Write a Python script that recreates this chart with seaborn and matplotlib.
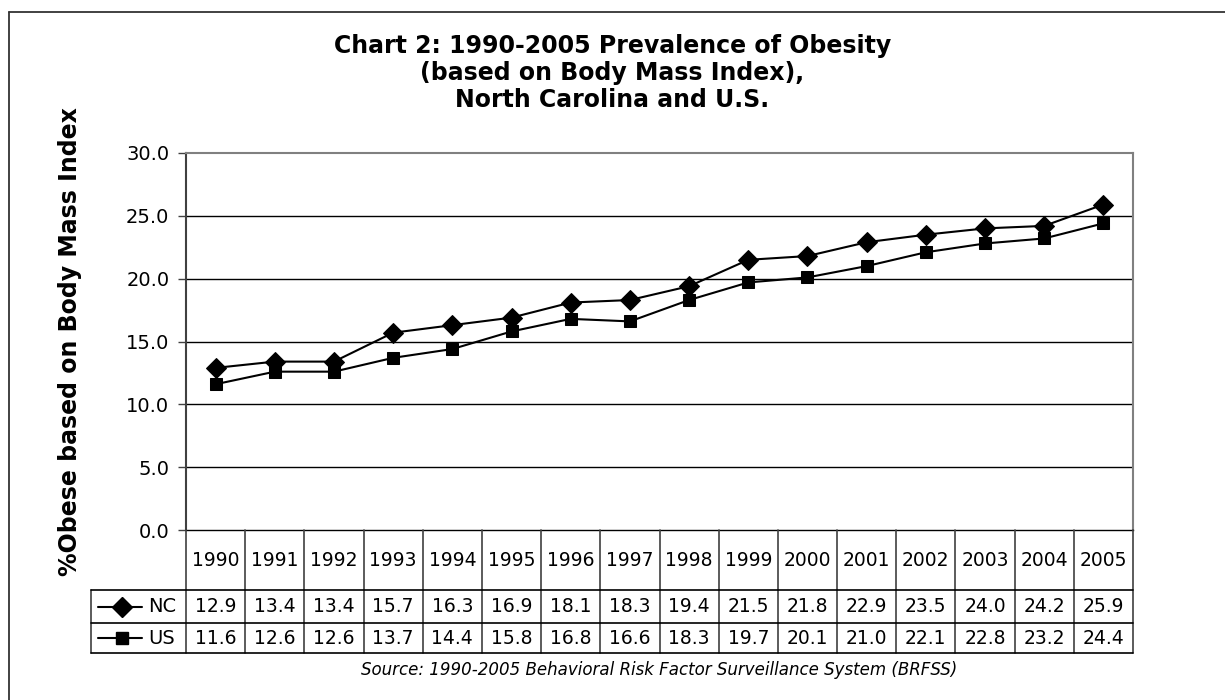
import numpy as np
import pandas as pd
import matplotlib
matplotlib.use('Agg')
import matplotlib.pyplot as plt
import seaborn as sns

sns.set_style('white')
plt.rcParams['font.family'] = ['DejaVu Sans']
plt.rcParams['text.color'] = 'black'
plt.rcParams['ytick.labelcolor'] = 'black'

years = ['1990', '1991', '1992', '1993', '1994', '1995', '1996', '1997',
         '1998', '1999', '2000', '2001', '2002', '2003', '2004', '2005']
nc = [12.9, 13.4, 13.4, 15.7, 16.3, 16.9, 18.1, 18.3,
      19.4, 21.5, 21.8, 22.9, 23.5, 24.0, 24.2, 25.9]
us = [11.6, 12.6, 12.6, 13.7, 14.4, 15.8, 16.8, 16.6,
      18.3, 19.7, 20.1, 21.0, 22.1, 22.8, 23.2, 24.4]
y_ticks = [0, 5, 10, 15, 20, 25, 30]

W, H = 1225, 700
pos = np.arange(len(years))
df = pd.DataFrame({'pos': pos, 'NC': nc, 'US': us})

fig = plt.figure(figsize=(12.25, 7), dpi=100)

# outer chart frame (only top and left visible)
fig.add_artist(plt.Line2D([9 / W, 9 / W], [0, 1 - 12 / H], color='#333333', lw=1.3))
fig.add_artist(plt.Line2D([9 / W, 1], [1 - 12 / H, 1 - 12 / H], color='#333333', lw=1.3))

# plot area in pixels
L, R, T, B = 186, 1133, 153, 530
ax = fig.add_axes([L / W, 1 - B / H, (R - L) / W, (B - T) / H])

sns.lineplot(data=df, x='pos', y='NC', ax=ax, color='black', lw=1.5,
             marker='D', markersize=10, markeredgecolor='black')
sns.lineplot(data=df, x='pos', y='US', ax=ax, color='black', lw=1.5,
             marker='s', markersize=8.5, markeredgecolor='black')

ax.set_xlim(-0.5, len(years) - 0.5)
ax.set_ylim(0, 30)
ax.set_yticks(y_ticks)
ax.set_yticklabels([f'{v:.1f}' for v in y_ticks], fontsize=14)
ax.set_xticks([])
ax.set_xlabel('')
ax.set_ylabel('')
for v in y_ticks[1:-1]:
    ax.axhline(v, color='black', lw=1, zorder=0)
ax.tick_params(axis='y', left=True, length=6, width=1, color='#404040', pad=6)
ax.spines['left'].set_color('#404040')
ax.spines['left'].set_linewidth(1.5)
ax.spines['bottom'].set_color('black')
ax.spines['bottom'].set_linewidth(1)
for s in ['top', 'right']:
    ax.spines[s].set_color('#808080')
    ax.spines[s].set_linewidth(1.5)

# data table under the plot
leg_px = L - 91
col_px = (R - L) / len(years)
leg_w = leg_px / col_px
row_b = [0, 60, 93, 123]
tab = fig.add_axes([91 / W, 1 - 653 / H, (R - 91) / W, (653 - B) / H])
tab.set_xlim(-0.5 - leg_w, len(years) - 0.5)
tab.set_ylim(row_b[-1], 0)
tab.axis('off')

for i in range(len(years) + 1):
    tab.plot([i - 0.5, i - 0.5], [0, row_b[-1]], color='#404040', lw=1.2, clip_on=False)
tab.plot([-0.5 - leg_w] * 2, [row_b[1], row_b[3]], color='#404040', lw=1.2, clip_on=False)
for yb in row_b[1:]:
    tab.plot([-0.5 - leg_w, len(years) - 0.5], [yb, yb], color='black', lw=1.2, clip_on=False)

for i, yr in enumerate(years):
    tab.text(i, (row_b[0] + row_b[1]) / 2, yr, ha='center', va='center', fontsize=13.5)
    tab.text(i, (row_b[1] + row_b[2]) / 2, f'{nc[i]:.1f}', ha='center', va='center', fontsize=13.5)
    tab.text(i, (row_b[2] + row_b[3]) / 2, f'{us[i]:.1f}', ha='center', va='center', fontsize=13.5)

x0 = -0.5 - leg_w
for (label, mk, ms), r in zip([('NC', 'D', 10), ('US', 's', 8.5)], [1, 2]):
    yc = (row_b[r] + row_b[r + 1]) / 2
    tab.plot([x0 + 7 / col_px, x0 + 51 / col_px], [yc, yc], color='black', lw=1.5, clip_on=False)
    tab.plot([x0 + 31 / col_px], [yc], marker=mk, markersize=ms, color='black', clip_on=False)
    tab.text(x0 + 57 / col_px, yc, label, ha='left', va='center', fontsize=14)

# titles and labels
title_lines = ['Chart 2: 1990-2005 Prevalence of Obesity',
               '(based on Body Mass Index),',
               'North Carolina and U.S.']
for k, line in enumerate(title_lines):
    fig.text(0.5, 1 - (46 + 27 * k) / H, line, ha='center', va='center',
             fontsize=17, fontweight='bold')

fig.text(70 / W, 1 - 342 / H, '%Obese based on Body Mass Index', rotation=90,
         ha='center', va='center', fontsize=17, fontweight='bold')
fig.text(659 / W, 1 - 670 / H,
         'Source: 1990-2005 Behavioral Risk Factor Surveillance System (BRFSS)',
         ha='center', va='center', fontsize=12, style='italic')

fig.savefig('out.png', dpi=100)
